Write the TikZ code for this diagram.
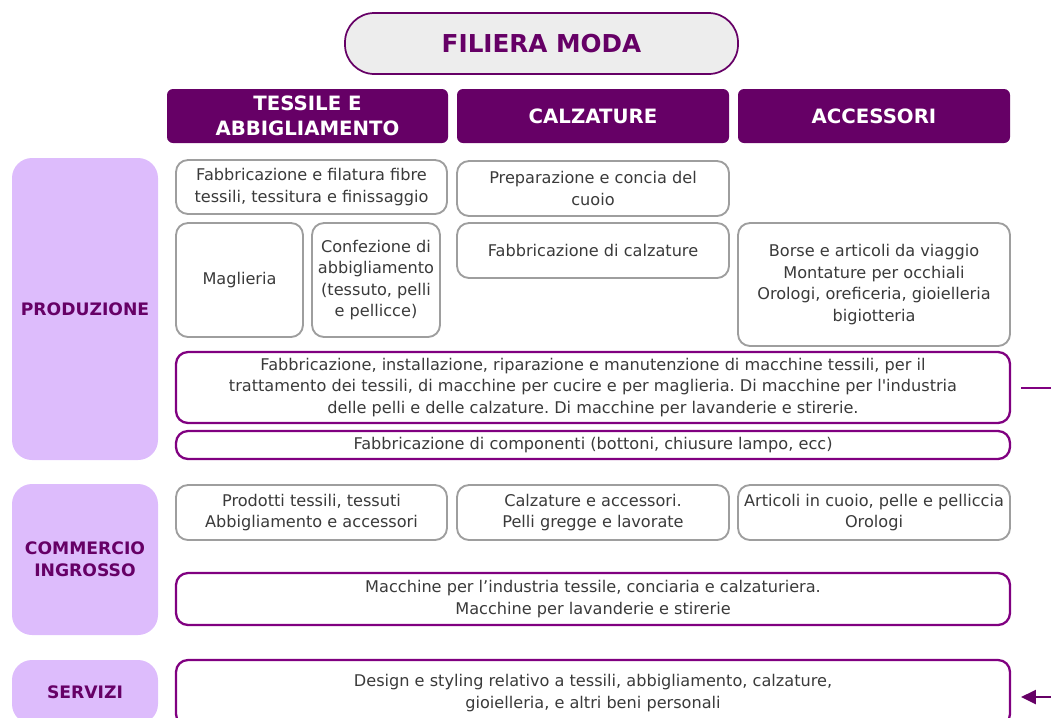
\documentclass[tikz,border=0pt]{standalone}
\usepackage{fontspec}
\setmainfont{DejaVu Sans}
\usetikzlibrary{arrows.meta}
\definecolor{prugna}{HTML}{660066}
\definecolor{viola}{HTML}{800080}
\definecolor{lilla}{HTML}{DDBCFC}
\definecolor{grigio}{HTML}{9E9E9E}
\definecolor{testo}{HTML}{3A3A3A}
\definecolor{perla}{HTML}{EDEDED}
\frenchspacing

\begin{document}
\begin{tikzpicture}[x=0.75pt, y=-0.75pt,
	every node/.style={inner sep=0pt, align=center},
	titolo/.style={draw=prugna, line width=1.3pt, fill=perla, rounded corners=22pt, text=prugna, font=\fontsize{18.5}{22}\selectfont\bfseries},
	testata/.style={fill=prugna, rounded corners=4.5pt, text=white, font=\fontsize{14.8}{18.8}\selectfont\bfseries, minimum height=40.5pt},
	fase/.style={fill=lilla, rounded corners=15pt, text=prugna, font=\fontsize{12.9}{16.5}\selectfont\bfseries, minimum width=109.5pt},
	voce/.style={draw=grigio, line width=1.4pt, rounded corners=9pt, text=testo, font=\fontsize{12.1}{16.1}\selectfont},
	macchine/.style={voce, draw=viola, line width=1.7pt, minimum width=625.5pt}]
	\clip (0, 0) rectangle (1051, 718);
	% titolo e colonne
	\node[titolo, minimum width=294.75pt, minimum height=45.75pt] (filiera) at (541.5, 43.5) {FILIERA MODA};
	\node[testata, minimum width=210.75pt] (tessile) at (307.5, 116) {TESSILE E\\ABBIGLIAMENTO};
	\node[testata, minimum width=204pt] (calzature) at (593, 116) {CALZATURE};
	\node[testata, minimum width=204pt] (accessori) at (874, 116) {ACCESSORI};
	% fasi
	\node[fase, minimum height=226.5pt] (produzione) at (85, 309) {PRODUZIONE};
	\node[fase, minimum height=113.25pt] (commercio) at (85, 559.5) {COMMERCIO\\INGROSSO};
	\node[fase, minimum height=48pt] (servizi) at (85, 692) {SERVIZI};
	% produzione
	\node[voce, minimum width=203.25pt, minimum height=40.5pt] (filatura) at (311.5, 187) {Fabbricazione e filatura fibre\\tessili, tessitura e finissaggio};
	\node[voce, minimum width=204pt, minimum height=41.25pt] (concia) at (593, 188.5) {Preparazione e concia del\\cuoio};
	\node[voce, minimum width=95.25pt, minimum height=85.5pt] (maglieria) at (239.5, 280) {Maglieria};
	\node[voce, minimum width=96pt, minimum height=85.5pt] (confezione) at (376, 280) {Confezione di\\abbigliamento\\(tessuto, pelli\\e pellicce)};
	\node[voce, minimum width=204pt, minimum height=41.25pt] (fabcalz) at (593, 250.5) {Fabbricazione di calzature};
	\node[voce, minimum width=204pt, minimum height=92.25pt] (borse) at (874, 284.5) {Borse e articoli da viaggio\\Montature per occhiali\\Orologi, oreficeria, gioielleria\\bigiotteria};
	\node[macchine, minimum height=53.25pt] (prodmacch) at (593, 387.5) {Fabbricazione, installazione, riparazione e manutenzione di macchine tessili, per il\\trattamento dei tessili, di macchine per cucire e per maglieria. Di macchine per l\textquotesingle industria\\delle pelli e delle calzature. Di macchine per lavanderie e stirerie.};
	\node[macchine, minimum height=21pt] (componenti) at (593, 445) {Fabbricazione di componenti (bottoni, chiusure lampo, ecc)};
	% commercio ingrosso
	\node[voce, minimum width=203.25pt, minimum height=41.25pt] (ingrtess) at (311.5, 512.5) {Prodotti tessili, tessuti\\Abbigliamento e accessori};
	\node[voce, minimum width=204pt, minimum height=41.25pt] (ingrcalz) at (593, 512.5) {Calzature e accessori.\\Pelli gregge e lavorate};
	\node[voce, minimum width=204pt, minimum height=41.25pt] (ingrcuoio) at (874, 512.5) {Articoli in cuoio, pelle e pelliccia\\Orologi};
	\node[macchine, minimum height=39pt] (ingrmacch) at (593, 599) {Macchine per l’industria tessile, conciaria e calzaturiera.\\Macchine per lavanderie e stirerie};
	% servizi
	\node[macchine, minimum height=49.5pt] (design) at (593, 693) {Design e styling relativo a tessili, abbigliamento, calzature,\\gioielleria, e altri beni personali};
	% segni a destra
	\coordinate (lineaA) at (1051, 388);
	\coordinate (frecciaB) at (1051, 697);
	\draw[viola, line width=1.5pt, shorten >=7.5pt] (lineaA) -- (prodmacch.east |- lineaA);
	\draw[prugna, line width=1.5pt, shorten >=7.5pt, -{Triangle[length=11pt, width=10.5pt]}] (frecciaB) -- (design.east |- frecciaB);
\end{tikzpicture}
\end{document}
